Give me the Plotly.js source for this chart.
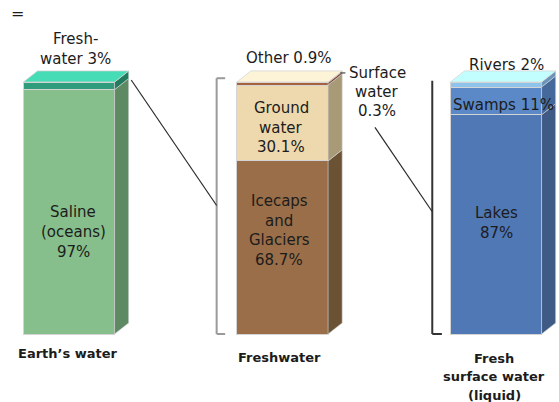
<!DOCTYPE html>
<html>
<head>
<meta charset="utf-8">
<script src="https://cdn.plot.ly/plotly-3.0.1.min.js"></script>
<style>
  html, body { margin: 0; padding: 0; background: #ffffff; }
  #chart { width: 559px; height: 402px; }
</style>
</head>
<body>
<div id="chart"></div>
<script>
// ---------------- DATA ----------------
const categories = ["Earth’s water", "Freshwater", "Fresh surface water (liquid)"];

const earthSegments = ["Saline (oceans)", "Freshwater"];
const earthValues = [97, 3];

const freshSegments = ["Icecaps and Glaciers", "Ground water", "Other", "Surface water"];
const freshValues = [68.7, 30.1, 0.9, 0.3];

const surfaceSegments = ["Lakes", "Swamps", "Rivers"];
const surfaceValues = [87, 11, 2];

// ---------------- STYLE / GEOMETRY ----------------
const W = 559, H = 402;
const X0PX = 69, XPX = 213.5;     // pixel of category 0, pixels per category step
const Y0PX = 334, YPX = 2.52;     // pixel of value 0, pixels per percent
const BW = 0.427;                 // front face width (category units)
const DX = 0.066, DY = 4.4;       // 3-D depth offsets
const FONT = "DejaVu Sans";
const TXT = "#1c1c1c";
const EDGE = "#d4d4d4";

const groups = [
  { idx: 0, names: earthSegments, values: earthValues,
    front: ["#86bf8b", "#2f9d7b"], side: ["#5d8a63", "#217a5d"], top: "#46dcb5" },
  { idx: 1, names: freshSegments, values: freshValues,
    front: ["#9a6e48", "#eed9ae", "#a8613f", "#a8613f"], side: ["#6b5234", "#a89a77", "#7d4630", "#7d4630"], top: "#fdf4d8" },
  { idx: 2, names: surfaceSegments, values: surfaceValues,
    front: ["#5078b4", "#5b88c7", "#8ec4ec"], side: ["#3e5a85", "#46699b", "#6a95b8"], top: "#c3feff" }
];

const traces = [];
const shapes = [];

groups.forEach(g => {
  const xl = g.idx - BW / 2, xr = g.idx + BW / 2;
  let base = 0;
  g.names.forEach((name, i) => {
    const v = g.values[i];
    traces.push({
      type: "bar", name: name + " (" + categories[g.idx] + ")",
      x: [g.idx], y: [v], width: [BW],
      marker: { color: g.front[i], line: { color: EDGE, width: 1 } },
      hoverinfo: "skip"
    });
    const t = base + v;
    shapes.push({
      type: "path", xref: "x", yref: "y",
      path: `M ${xr},${base} L ${xr + DX},${base + DY} L ${xr + DX},${t + DY} L ${xr},${t} Z`,
      fillcolor: g.side[i], line: { color: EDGE, width: 0.6 }
    });
    base = t;
  });
  shapes.push({
    type: "path", xref: "x", yref: "y",
    path: `M ${xl},${base} L ${xr},${base} L ${xr + DX},${base + DY} L ${xl + DX},${base + DY} Z`,
    fillcolor: g.top, line: { color: EDGE, width: 0.8 }
  });
});

// Brackets & connectors (relative to bar geometry)
const b2x = 1 - BW / 2 - 0.095;
const b3x = 2 - BW / 2 - 0.085;
shapes.push(
  { type: "line", xref: "x", yref: "y", x0: b2x, x1: b2x, y0: 0, y1: 101.5, line: { color: "#9a9a9a", width: 2 } },
  { type: "line", xref: "x", yref: "y", x0: b2x, x1: b2x + 0.04, y0: 101.5, y1: 101.5, line: { color: "#9a9a9a", width: 2 } },
  { type: "line", xref: "x", yref: "y", x0: b2x, x1: b2x + 0.04, y0: 0, y1: 0, line: { color: "#9a9a9a", width: 2 } },
  { type: "line", xref: "x", yref: "y", x0: b3x, x1: b3x, y0: 0, y1: 100.5, line: { color: "#333333", width: 2 } },
  { type: "line", xref: "x", yref: "y", x0: b3x, x1: b3x + 0.045, y0: 0, y1: 0, line: { color: "#333333", width: 2 } },
  { type: "line", xref: "x", yref: "y", x0: BW / 2 + DX + 0.012, y0: 100.8, x1: b2x, y1: 51, line: { color: "#2a2a2a", width: 1.2 } },
  { type: "line", xref: "x", yref: "y", x0: 1.433, y0: 82, x1: b3x, y1: 48.5, line: { color: "#2a2a2a", width: 1.2 } },
  { type: "line", xref: "x", yref: "y", x0: 1 + BW / 2 + DX - 0.009, y0: 103.6, x1: 1 + BW / 2 + DX + 0.015, y1: 103.6, line: { color: "#555555", width: 1.3 } }
);

// ---------------- LABELS ----------------
const annotations = [];
function label(lines, px, py, spacing, size, bold) {
  lines.forEach((s, i) => {
    annotations.push({
      xref: "paper", yref: "paper", x: px / W, y: 1 - (py + i * spacing) / H,
      xanchor: "center", yanchor: "middle", showarrow: false,
      text: bold ? "<b>" + s + "</b>" : s,
      font: { family: FONT, size: size, color: TXT }
    });
  });
}
label(["="], 17, 13, 0, 16, false);
label(["Fresh-", "water " + earthValues[1] + "%"], 75, 39, 19.5, 15, false);
label(["Saline", "(oceans)", earthValues[0] + "%"], 73, 212, 20, 15, false);
label(["Ground", "water", freshValues[1] + "%"], 281, 108, 19.5, 15, false);
label(["Icecaps", "and", "Glaciers", freshValues[0] + "%"], 279, 201, 19.5, 15, false);
label(["Other " + freshValues[2] + "%"], 288, 58, 0, 15, false);
label(["Surface", "water", freshValues[3] + "%"], 377, 73, 19, 15, false);
label(["Rivers " + surfaceValues[2] + "%"], 507, 65, 0, 15, false);
label(["Swamps " + surfaceValues[1] + "%"], 503, 105, 0, 15, false);
label(["Lakes", surfaceValues[0] + "%"], 496, 213, 20, 15, false);
label([categories[0]], 68, 353, 0, 13, true);
label([categories[1]], 279, 357, 0, 13, true);
label(["Fresh", "surface water", "(liquid)"], 494, 358, 18.5, 13, true);

const layout = {
  width: W, height: H,
  margin: { l: 0, r: 0, t: 0, b: 0 },
  paper_bgcolor: "#ffffff", plot_bgcolor: "#ffffff",
  barmode: "stack", showlegend: false,
  xaxis: { range: [-X0PX / XPX, (W - X0PX) / XPX], visible: false, fixedrange: true },
  yaxis: { range: [-(H - Y0PX) / YPX, Y0PX / YPX], visible: false, fixedrange: true },
  shapes: shapes,
  annotations: annotations
};

Plotly.newPlot("chart", traces, layout, { staticPlot: true, displayModeBar: false });
</script>
</body>
</html>
